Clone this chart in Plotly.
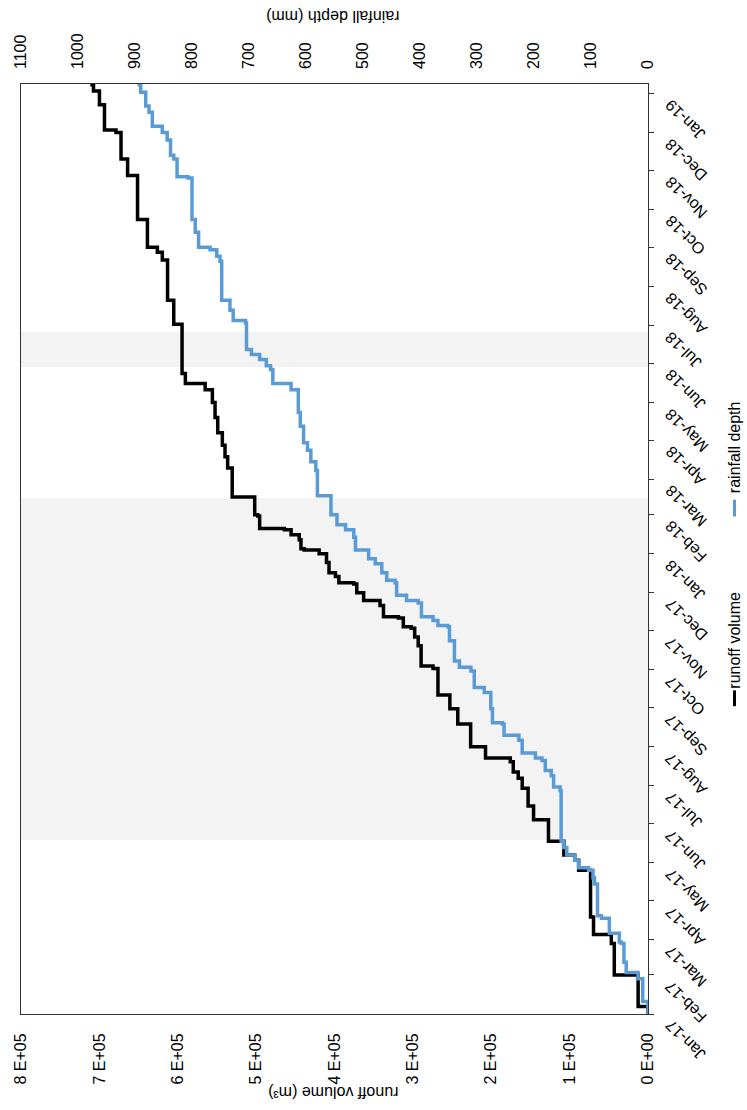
import pandas as pd
import plotly.graph_objects as go

START = pd.Timestamp("2017-01-01")
AXIS_END = "2019-01-08 12:00"

# cumulative runoff volume (m3): days since 2017-01-01 and value after each step
runoff_days = [0, 6, 31, 56, 63, 77, 114, 122, 126, 137, 154, 165, 179, 187, 192, 200, 203, 212,
               230, 242, 253, 274, 276, 292, 299, 306, 307, 314, 315, 324, 328, 334, 341, 342,
               347, 350, 358, 365, 368, 369, 376, 380, 384, 385, 395, 396, 410, 433, 442, 451,
               461, 473, 485, 495, 500, 508, 547, 566, 598, 604, 608, 630, 665, 678, 699, 701,
               721, 732, 737]
runoff_vals = [0, 12600, 43000, 46800, 69500, 73300, 88500, 93500, 107400, 127000, 146000, 153000,
               160500, 165600, 171900, 175700, 207300, 226300, 242700, 252800, 268000, 274300,
               289500, 293200, 297700, 302100, 312200, 318500, 337500, 341900, 362800, 371600,
               375400, 394400, 398800, 407000, 410200, 419600, 438600, 442800, 445000, 455400,
               463900, 495500, 498000, 501800, 530500, 536300, 539700, 543100, 549000, 552400,
               555800, 565000, 590300, 594500, 605100, 613000, 619700, 626000, 638700, 651300,
               664000, 672400, 678800, 693500, 699900, 707500, 711600]

# cumulative rainfall depth (mm)
rain_days = [0, 10, 28, 33, 41, 56, 57, 64, 76, 78, 103, 108, 114, 116, 122, 126, 132, 137, 177,
             180, 189, 193, 201, 203, 207, 217, 221, 230, 231, 242, 255, 259, 272, 275, 280, 296,
             307, 308, 312, 315, 326, 328, 332, 342, 344, 350, 357, 361, 368, 378, 384, 388, 396,
             411, 431, 438, 447, 453, 466, 477, 495, 500, 511, 514, 519, 523, 527, 548, 550, 558,
             566, 597, 601, 606, 608, 620, 630, 663, 664, 678, 681, 693, 699, 704, 715, 720, 731,
             737]
rain_vals = [0, 9.2, 17.4, 38.2, 42.2, 46.9, 50.4, 67.8, 81.7, 88.6, 93.9, 96.5, 104.3, 121.7,
             128.6, 142.5, 148.3, 152.4, 154.2, 165.6, 169.8, 180.2, 186.0, 197.6, 220.7, 226.5,
             252.5, 255.5, 272.9, 275.8, 287.3, 304.8, 310.7, 330.8, 339.6, 348.3, 351.1, 368.5,
             377.1, 397.5, 403.2, 423.6, 441.0, 443.7, 458.3, 467.0, 478.5, 490.1, 513.2, 516.2,
             530.6, 545.7, 556.2, 580.0, 582.8, 591.5, 597.4, 604.3, 610.0, 613.5, 626.2, 658.2,
             662.2, 669.6, 681.3, 695.7, 704.4, 706.2, 727.7, 733.4, 747.9, 750.8, 756.6, 768.2,
             788.5, 794.3, 800.0, 807.0, 826.2, 832.0, 837.7, 843.5, 852.2, 869.6, 875.4, 881.2,
             889.9, 895.6]

# shaded periods
band_start = ["2017-05-19", "2018-05-29"]
band_end = ["2018-02-14", "2018-06-26"]

runoff_ticks = [0, 1e5, 2e5, 3e5, 4e5, 5e5, 6e5, 7e5, 8e5]
runoff_ticktext = ["0 E+00", "1 E+05", "2 E+05", "3 E+05", "4 E+05", "5 E+05", "6 E+05",
                   "7 E+05", "8 E+05"]
rain_ticks = [0, 100, 200, 300, 400, 500, 600, 700, 800, 900, 1000, 1100]
date_ticks = pd.date_range("2017-01-01", "2019-01-01", freq="MS")
date_ticktext = [d.strftime("%b-%y") for d in date_ticks]

runoff_dates = START + pd.to_timedelta(runoff_days, unit="D")
rain_dates = START + pd.to_timedelta(rain_days, unit="D")

FONT = "Liberation Sans, Arial, sans-serif"
BLUE = "#5B9BD5"
FS = 16

fig = go.Figure()
fig.add_trace(go.Scatter(x=runoff_vals, y=runoff_dates, mode="lines", name="runoff volume",
                         line=dict(color="black", width=3.5, shape="vh"),
                         xaxis="x", yaxis="y", showlegend=False))
fig.add_trace(go.Scatter(x=rain_vals, y=rain_dates, mode="lines", name="rainfall depth",
                         line=dict(color=BLUE, width=3.5, shape="vh"),
                         xaxis="x2", yaxis="y", showlegend=False))

shapes = []
for s, e in zip(band_start, band_end):
    shapes.append(dict(type="rect", xref="paper", yref="y", x0=0, x1=1, y0=s, y1=e,
                       fillcolor="#F3F3F3", line=dict(width=0), layer="below"))

# legend drawn manually (rotated)
shapes.append(dict(type="line", xref="paper", yref="paper", x0=1.138, x1=1.138, y0=0.331, y1=0.348,
                   line=dict(color="black", width=3)))
shapes.append(dict(type="line", xref="paper", yref="paper", x0=1.138, x1=1.138, y0=0.535, y1=0.553,
                   line=dict(color=BLUE, width=3)))

txt = dict(size=FS, color="black", family=FONT)
annotations = [
    dict(text="runoff volume", xref="paper", yref="paper", x=1.138, y=0.402, textangle=-90,
         xanchor="center", yanchor="middle", showarrow=False, font=txt),
    dict(text="rainfall depth", xref="paper", yref="paper", x=1.138, y=0.609, textangle=-90,
         xanchor="center", yanchor="middle", showarrow=False, font=txt),
    dict(text="runoff volume (m³)", xref="paper", yref="paper", x=0.498, y=-0.085, textangle=180,
         xanchor="center", yanchor="middle", showarrow=False, font=txt),
    dict(text="rainfall depth (mm)", xref="paper", yref="paper", x=0.498, y=1.072, textangle=180,
         xanchor="center", yanchor="middle", showarrow=False, font=txt),
]
# rotated date tick labels
for d, t in zip(date_ticks, date_ticktext):
    annotations.append(dict(text=t, xref="paper", yref="y", x=1.018, y=d, textangle=-135,
                            xanchor="left", yanchor="top", showarrow=False, font=txt))

fig.update_layout(
    width=747, height=1110,
    margin=dict(l=17, r=99, t=84, b=96),
    paper_bgcolor="white", plot_bgcolor="white",
    font=dict(family=FONT, size=FS, color="black"),
    shapes=shapes, annotations=annotations,
    xaxis=dict(range=[8e5, 0], tickvals=runoff_ticks, ticktext=runoff_ticktext, tickangle=-90,
               side="bottom", showgrid=False, zeroline=False, showline=True, linecolor="#333333",
               linewidth=1, mirror=True, ticks="", ticklabelstandoff=12, anchor="y"),
    xaxis2=dict(range=[1100, 0], tickvals=rain_ticks, tickangle=-90, side="top", overlaying="x",
                showgrid=False, zeroline=False, showline=False, ticks="", anchor="y",
                ticklabelstandoff=14),
    yaxis=dict(type="date", range=["2017-01-01", AXIS_END], side="right",
               tickvals=list(date_ticks), showticklabels=False, showgrid=False,
               zeroline=False, showline=True, linecolor="#333333", linewidth=1, mirror=True,
               ticks="outside", ticklen=5, tickcolor="#333333"),
)

fig.write_html("out.html")
